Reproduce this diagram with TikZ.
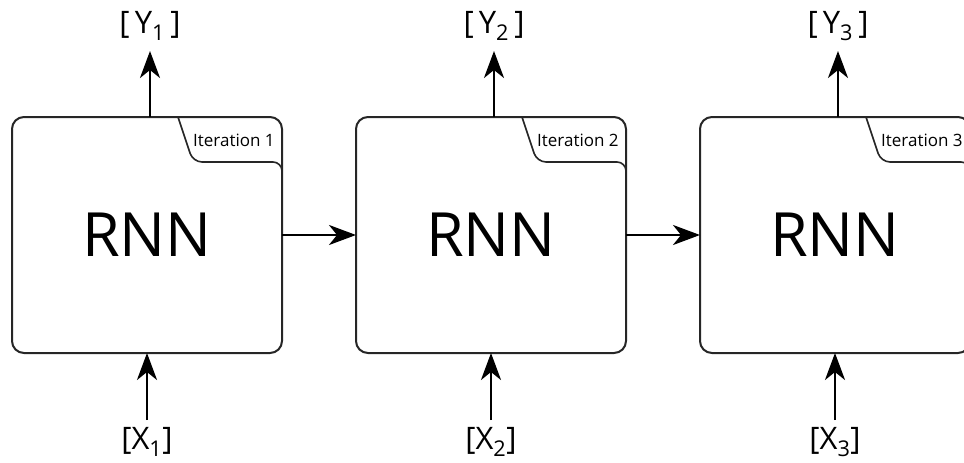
\documentclass[tikz,border=0pt]{standalone}
\usepackage{fontspec}
\setmainfont{Open Sans}
\usetikzlibrary{arrows.meta}
\tikzset{
  rnnbox/.style={draw=black!85, line width=2pt, outer sep=0pt, rounded corners=12pt, minimum width=270pt, minimum height=236pt, inner sep=0pt, font=\fontsize{61}{64}\selectfont},
  tabline/.style={draw=black!85, line width=1.6pt},
  flow/.style={line width=2.6pt, -{Stealth[length=27pt,width=20pt,inset=8pt]}},
  vlabel/.style={font=\fontsize{31}{36}\selectfont, inner sep=0pt},
  itlabel/.style={font=\fontsize{17}{20}\selectfont, inner sep=0pt, anchor=west}
}
\begin{document}
\begin{tikzpicture}[x=1pt,y=-1pt]
\useasboundingbox (0,0) rectangle (964,463);
\clip (0,0) rectangle (964,463);
\foreach \i/\x in {1/12,2/356,3/700}{
  \node[rnnbox, anchor=north west] (b\i) at (\x,117) {RNN};
  \draw[tabline, rounded corners=9pt] ([xshift=166pt]b\i.north west) -- ([xshift=181pt,yshift=-45pt]b\i.north west) -- ([yshift=-45pt]b\i.north east) -- ([yshift=-62pt]b\i.north east);
  \node[itlabel] (it\i) at ([xshift=181pt,yshift=-23pt]b\i.north west) {Iteration \i};
  \node[vlabel] (y\i) at ([xshift=3pt]b\i.north |- 0,26) {[\,Y\textsubscript{\i}\,]};
  \node[vlabel] (x\i) at (b\i.south |- 0,442) {[X\textsubscript{\i}]};
  \coordinate (yt\i) at ([xshift=3pt]b\i.north |- 0,51);
  \coordinate (xt\i) at (b\i.south |- 0,420);
  \draw[flow] ([xshift=3pt]b\i.north) -- (yt\i);
  \draw[flow] (xt\i) -- (b\i.south);
}
\draw[flow] (b1.east) -- (b2.west);
\draw[flow] (b2.east) -- (b3.west);
\end{tikzpicture}
\end{document}
